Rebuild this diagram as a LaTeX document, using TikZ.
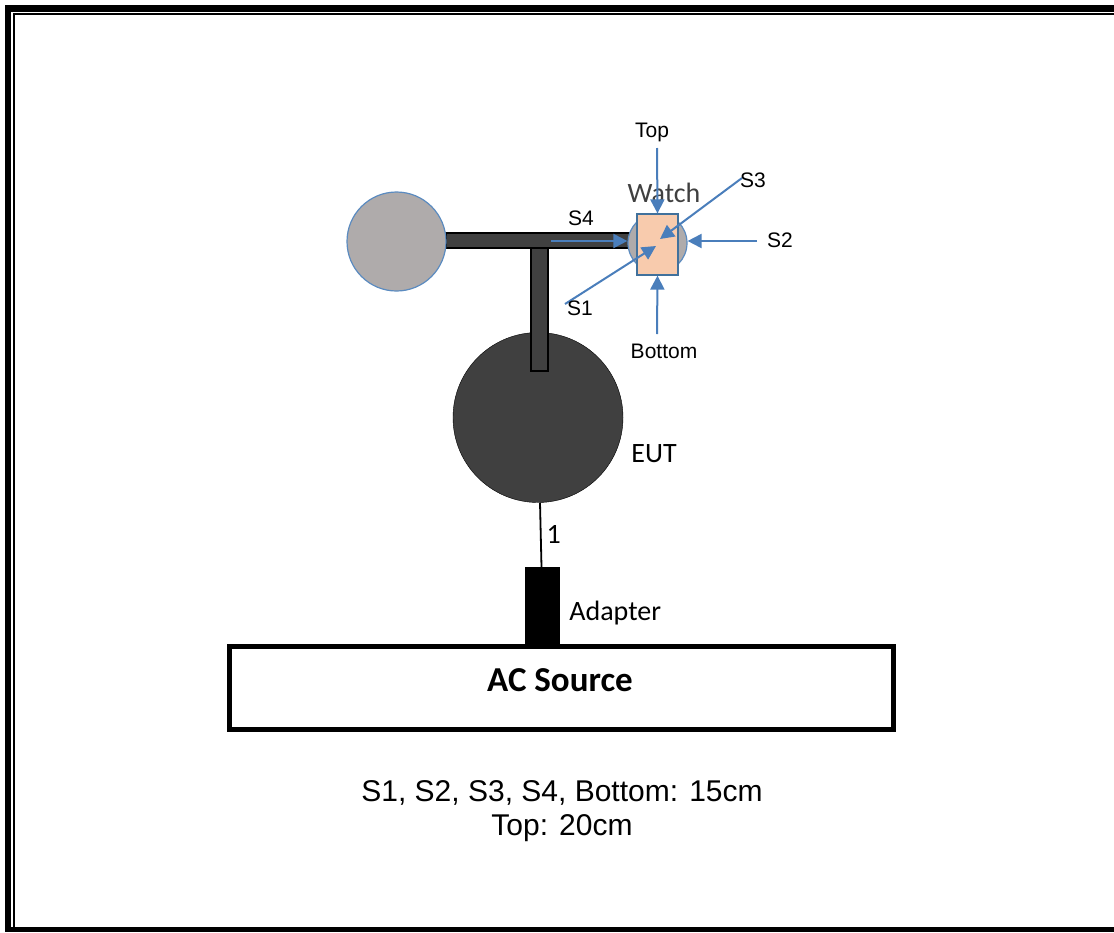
\documentclass[tikz,border=0pt]{standalone}
\usepackage{fontspec}
\setmainfont{Liberation Sans}
\newfontfamily\calibri{Carlito}
\usetikzlibrary{positioning,arrows.meta}
\definecolor{darkbody}{HTML}{404040}
\definecolor{ballgray}{HTML}{AFABAB}
\definecolor{edgeblue}{HTML}{5B8BC0}
\definecolor{arrblue}{HTML}{4A7EBB}
\definecolor{peach}{HTML}{F8CBAD}
\definecolor{rectblue}{HTML}{41719C}

\begin{document}
\begin{tikzpicture}[x=1pt, y=-1pt,
  bar/.style={draw, fill=darkbody, line width=1.2pt, minimum width=#1, inner sep=0pt},
  ball/.style={circle, draw=edgeblue, line width=1.2pt, fill=ballgray, minimum size=#1, inner sep=0pt},
  arr/.style={-{Triangle[length=14pt,width=14pt]}, draw=arrblue, line width=2pt},
  lbl/.style={inner sep=0pt, font=\fontsize{21}{24}\selectfont},
  cal/.style={inner sep=0pt, font=\calibri\fontsize{28}{32}\selectfont}]
  \useasboundingbox (0,0) rectangle (1114,932);
  % page border
  \fill (5,5) rectangle (1114,11.5);
  \fill (5,5) rectangle (11,932);
  \draw[line width=2pt] (14,927) -- (14,14) -- (1114,14);
  \draw[line width=3pt] (11,928) -- (1114,928);
  \draw[line width=1.5pt] (11,931) -- (1114,931);

  % EUT and stand
  \node[circle, draw, fill=darkbody, minimum size=170, inner sep=0pt] (eut) at (538,417.5) {};
  \node[bar=17, minimum height=123] (upright) at (539.5,309.5) {};
  \node[bar=184, minimum height=15] (arm) at (538,240.5) {};
  \node[ball=99] (cw) at (396.5,241.5) {};
  \node[cal, right=8pt of eut.east, yshift=-36pt] (eutlbl) {EUT};

  % watch
  \node[ball=59] (wcirc) at (657.5,243) {};
  \node[draw=rectblue, fill=peach, line width=1.2pt, minimum width=41, minimum height=61, inner sep=0pt] (watch) at (657.5,244.5) {};
  \node[cal, text=darkbody] (watchlbl) at (664,193) {Watch};

  % supply
  \node[draw, line width=5pt, minimum width=664, minimum height=83.5, inner sep=0pt] (ac) at (561,688) {};
  \node[inner sep=0pt, font=\calibri\bfseries\fontsize{35}{40}\selectfont] (aclbl) at (560,680) {AC Source};
  \node[fill=black, minimum width=35, minimum height=78, inner sep=0pt] (adapter) at (542.5,606) {};
  \node[cal, right=9pt of adapter, yshift=-7pt] (adlbl) {Adapter};
  \draw[line width=1.8pt] ([xshift=2pt]eut.south) -- node[cal, right=5pt, pos=0.5] (cable) {1} ([xshift=-1pt]adapter.north);

  % probe positions
  \coordinate (topT) at (657,148);
  \coordinate (botT) at (657,334);
  \coordinate (s2T) at (757,241);
  \coordinate (s4T) at (551,241);
  \coordinate (s3T) at (742,178);
  \coordinate (s3H) at (660,239);
  \coordinate (s1T) at (565,304);
  \coordinate (s1H) at (656,246);
  \draw[arr] (topT) -- (watch.north);
  \draw[arr] (botT) -- (watch.south);
  \draw[arr] (s2T) -- (wcirc.east |- s2T);
  \draw[arr] (s4T) -- (wcirc.west |- s4T);
  \draw[arr] (s3T) -- (s3H);
  \draw[arr] (s1T) -- (s1H);
  \node[lbl] (toplbl) at (652,132) {Top};
  \node[lbl] (botlbl) at (664,351) {Bottom};
  \node[lbl] (s2lbl) at (780,240) {S2};
  \node[lbl] (s4lbl) at (581,218) {S4};
  \node[lbl] (s3lbl) at (753,180) {S3};
  \node[lbl] (s1lbl) at (580,308) {S1};

  % distances
  \node[align=center, inner sep=0pt, font=\fontsize{30}{34}\selectfont] (note) at (562,811) {S1, S2, S3, S4, Bottom: 15cm\\Top: 20cm};
\end{tikzpicture}
\end{document}
